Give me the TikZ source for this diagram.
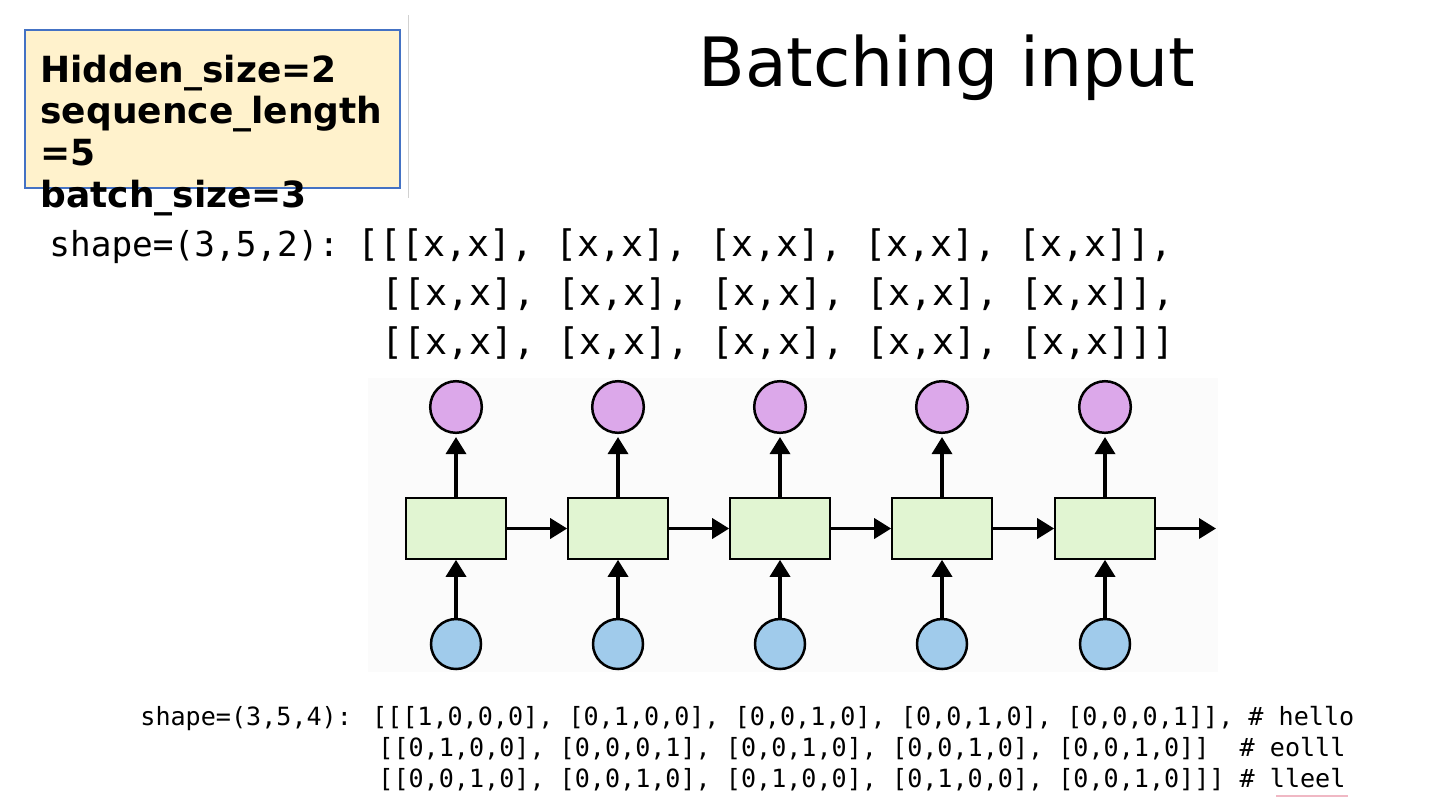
\documentclass[tikz,border=0pt]{standalone}
\usepackage{fontspec}
\setmainfont{DejaVu Sans}
\newfontfamily\codefont{DejaVu Sans Mono}
\usetikzlibrary{arrows.meta}
\definecolor{boxfill}{HTML}{FFF2CC}
\definecolor{boxline}{HTML}{4472C4}
\definecolor{outc}{HTML}{DCA8EA}
\definecolor{inc}{HTML}{A0CBEB}
\definecolor{cellc}{HTML}{E1F5D2}
\definecolor{spell}{HTML}{F0B8C4}
\begin{document}
\begin{tikzpicture}[x=0.5pt,y=-0.5pt,
  cell/.style={draw=black,line width=0.8pt,fill=cellc,minimum width=50pt,minimum height=30.5pt,inner sep=0pt},
  outnode/.style={circle,draw=black,line width=1.25pt,fill=outc,minimum size=25.8pt,inner sep=0pt},
  innode/.style={circle,draw=black,line width=1.25pt,fill=inc,minimum size=25pt,inner sep=0pt},
  flow/.style={line width=1.75pt,-{Triangle[width=10pt,length=8.5pt]}},
  codebig/.style={anchor=base west,inner sep=0pt,font=\codefont\fontsize{18.3}{22}\selectfont},
  codelabel/.style={anchor=base west,inner sep=0pt,font=\codefont\fontsize{17.2}{22}\selectfont},
  codesmall/.style={anchor=base west,inner sep=0pt,font=\codefont\fontsize{12.55}{15}\selectfont}]
\useasboundingbox (0,0) rectangle (1440,811);
\fill[white] (0,0) rectangle (1440,811);

% parameter box
\draw[boxline,line width=0.75pt,fill=boxfill] (25,30) rectangle (400,188);
\draw[black!18,line width=0.5pt] (408,15) -- (408,198);
\node[anchor=base west,align=left,inner sep=0pt,font=\bfseries\fontsize{18}{20.8}\selectfont] (params) at (40,207)
  {Hidden\_size=2\\sequence\_length\\=5\\batch\_size=3};

% title
\node[anchor=base,inner sep=0pt,font=\fontsize{34}{40}\selectfont] (title) at (947,86) {Batching input};

% top shape text
\node[codelabel] (shapeA) at (49,256) {shape=(3,5,2):};
\node[codebig] (rowA1) at (357,256) {[[[x,x], [x,x], [x,x], [x,x], [x,x]],};
\node[codebig] (rowA2) at (381,305) {[[x,x], [x,x], [x,x], [x,x], [x,x]],};
\node[codebig] (rowA3) at (381,354) {[[x,x], [x,x], [x,x], [x,x], [x,x]]]};

% RNN background
\fill[black!1.5] (368,378) rectangle (1218,672);

% cells, outputs, inputs
\foreach \i/\x in {1/456,2/618,3/780,4/942,5/1105}{
  \node[cell] (c\i) at (\x,528.5) {};
  \node[outnode] (o\i) at (\x,407) {};
  \node[innode] (in\i) at (\x,644) {};
  \draw[flow,shorten >=1.5pt] (c\i.north) -- (o\i.south);
  \draw[flow] (in\i.north) -- (c\i.south);
}
\coordinate (hend) at (1216,528.5);
\draw[flow] (c1.east) -- (c2.west);
\draw[flow] (c2.east) -- (c3.west);
\draw[flow] (c3.east) -- (c4.west);
\draw[flow] (c4.east) -- (c5.west);
\draw[flow] (c5.east) -- (hend);

% bottom shape text
\node[codesmall] (shapeB) at (140,725) {shape=(3,5,4): [[[1,0,0,0], [0,1,0,0], [0,0,1,0], [0,0,1,0], [0,0,0,1]], \# hello};
\node[codesmall] (rowB2) at (378,756) {[[0,1,0,0], [0,0,0,1], [0,0,1,0], [0,0,1,0], [0,0,1,0]]~~\# eolll};
\node[codesmall] (rowB3) at (378,787) {[[0,0,1,0], [0,0,1,0], [0,1,0,0], [0,1,0,0], [0,0,1,0]]] \# lleel};
\draw[spell,line width=0.6pt] (1276,796) -- (1348,796);
\end{tikzpicture}
\end{document}
